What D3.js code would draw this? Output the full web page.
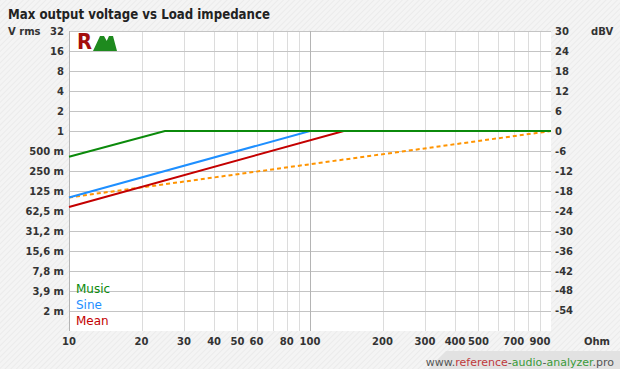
<!DOCTYPE html>
<html>
<head>
<meta charset="utf-8">
<script src="https://cdn.jsdelivr.net/npm/d3@7"></script>
<style>
  body { margin: 0; background: #fff; }
  svg { display: block; font-family: "DejaVu Sans", Verdana, sans-serif; }
</style>
</head>
<body>
<script>
// series: load impedance (Ohm) vs max output voltage (V rms)
var musicR = [10, 25, 1000],  musicV = [0.41, 1, 1];
var sineR  = [10, 100, 1000], sineV  = [0.1, 1, 1];
var meanR  = [10, 138, 1000], meanV  = [0.072, 1, 1];
var refR   = [10, 1000],      refV   = [0.1, 1];

var xTicks = [10, 20, 30, 40, 50, 60, 80, 100, 200, 300, 400, 500, 700, 900];
var xGrid  = [20, 30, 40, 50, 60, 70, 80, 90, 200, 300, 400, 500, 600, 700, 800, 900];
var yTicks = [32, 16, 8, 4, 2, 1, 0.5, 0.25, 0.125, 0.0625, 0.03125, 0.015625, 0.0078125, 0.00390625, 0.001953125];
var yLabels = ["32", "16", "8", "4", "2", "1", "500 m", "250 m", "125 m", "62,5 m", "31,2 m", "15,6 m", "7,8 m", "3,9 m", "2 m"];
var dbTicks = [30, 24, 18, 12, 6, 0, -6, -12, -18, -24, -30, -36, -42, -48, -54];

function draw() {
    var W = 620, H = 369;
    var mLeft = 69, mRight = 551, mTop = 31, mBottom = 331;

    var svg = d3.select("body").append("svg")
        .attr("width", W).attr("height", H);

    // hatched background
    var defs = svg.append("defs");
    var pat = defs.append("pattern")
        .attr("id", "hatch").attr("width", 4).attr("height", 4)
        .attr("patternUnits", "userSpaceOnUse")
        .attr("patternTransform", "rotate(45)");
    pat.append("rect").attr("width", 4).attr("height", 4).attr("fill", "#f4f4f4");
    pat.append("line").attr("x1", 0).attr("y1", 0).attr("x2", 0).attr("y2", 4)
        .attr("stroke", "#e8e8e8").attr("stroke-width", 1.5);

    svg.append("rect").attr("width", W).attr("height", H).attr("fill", "url(#hatch)");

    // url strip bottom right
    svg.append("path")
        .attr("d", "M446,351 L620,351 L620,369 L428,369 Z")
        .attr("fill", "#e2e2e2");

    var x = d3.scaleLog().domain([10, 1000]).range([mLeft, mRight]);
    var y = d3.scaleLog().base(2).domain([Math.pow(2, -10), 32]).range([mBottom, mTop]);
    var yDb = d3.scaleLinear()
        .domain([20 * Math.log10(Math.pow(2, -10)), 20 * Math.log10(32)])
        .range([mBottom, mTop]);

    svg.append("rect")
        .attr("x", mLeft).attr("y", mTop)
        .attr("width", mRight - mLeft).attr("height", mBottom - mTop)
        .attr("fill", "#fff");

    var grid = svg.append("g");
    grid.selectAll(".vg")
        .data(xGrid)
        .enter().append("line")
        .attr("y1", mTop).attr("y2", mBottom)
        .attr("x1", function(d) { return Math.round(x(d)) + 0.5; })
        .attr("x2", function(d) { return Math.round(x(d)) + 0.5; })
        .attr("stroke", "#dcdcdc");

    grid.selectAll(".hg")
        .data(yTicks)
        .enter().append("line")
        .attr("x1", mLeft).attr("x2", mRight)
        .attr("y1", function(d) { return Math.round(y(d)) + 0.5; })
        .attr("y2", function(d) { return Math.round(y(d)) + 0.5; })
        .attr("stroke", "#c4c4c4");

    // decade line and left edge
    grid.append("line")
        .attr("y1", mTop).attr("y2", mBottom)
        .attr("x1", Math.round(x(100)) + 0.5).attr("x2", Math.round(x(100)) + 0.5)
        .attr("stroke", "#b4b4b4");
    grid.append("line")
        .attr("y1", mTop).attr("y2", mBottom)
        .attr("x1", mLeft + 0.5).attr("x2", mLeft + 0.5)
        .attr("stroke", "#b4b4b4");

    // tick labels
    var lab = svg.append("g")
        .attr("font-size", 10).attr("font-weight", "bold").attr("fill", "#333");

    lab.selectAll(".yl")
        .data(yTicks)
        .enter().append("text")
        .attr("x", 64).attr("y", function(d) { return y(d) + 4; })
        .attr("text-anchor", "end")
        .text(function(d, i) { return yLabels[i]; });

    lab.selectAll(".dl")
        .data(dbTicks)
        .enter().append("text")
        .attr("x", 555).attr("y", function(d) { return yDb(d) + 4; })
        .text(function(d) { return d; });

    lab.selectAll(".xl")
        .data(xTicks)
        .enter().append("text")
        .attr("x", function(d) { return x(d); }).attr("y", 345)
        .attr("text-anchor", "middle")
        .text(function(d) { return d; });

    lab.append("text").attr("x", 8).attr("y", 35).text("V rms");
    lab.append("text").attr("x", 591).attr("y", 35).text("dBV");
    lab.append("text").attr("x", 584).attr("y", 345).text("Ohm");

    svg.append("text")
        .attr("x", 8).attr("y", 19)
        .attr("font-size", 14).attr("font-weight", "bold").attr("fill", "#222")
        .attr("textLength", 262).attr("lengthAdjust", "spacingAndGlyphs")
        .text("Max output voltage vs Load impedance");

    // logo
    var logo = svg.append("g");
    logo.append("text")
        .attr("x", 77).attr("y", 49)
        .attr("font-size", 21).attr("font-weight", "bold").attr("fill", "#a40d0d")
        .attr("textLength", 15).attr("lengthAdjust", "spacingAndGlyphs")
        .text("R");
    logo.append("path")
        .attr("d", "M93,51 L100,36 L104,36 L110,47 L106,51 Z M102,51 L109,36 L113,36 L117,51 L112,51 Z")
        .attr("fill", "#1e8a1e");

    // series lines
    var line = d3.line()
        .x(function(d) { return x(d[0]); })
        .y(function(d) { return y(d[1]); });

    function zip(a, b) { return a.map(function(v, i) { return [v, b[i]]; }); }

    var series = [
        { r: refR, v: refV, color: "#ff9400", dash: "4,3" },
        { r: meanR, v: meanV, color: "#c40000" },
        { r: sineR, v: sineV, color: "#1e8fff" },
        { r: musicR, v: musicV, color: "#0b8a0b" }
    ];

    svg.append("g").selectAll("path")
        .data(series)
        .enter().append("path")
        .attr("d", function(s) { return line(zip(s.r, s.v)); })
        .attr("fill", "none")
        .attr("stroke", function(s) { return s.color; })
        .attr("stroke-width", 2)
        .attr("stroke-dasharray", function(s) { return s.dash || null; });

    // legend
    var legend = [["Music", "#0b8a0b"], ["Sine", "#1e8fff"], ["Mean", "#c40000"]];
    svg.append("g").selectAll("text")
        .data(legend)
        .enter().append("text")
        .attr("x", 76).attr("y", function(d, i) { return 293 + i * 16; })
        .attr("font-size", 12).attr("fill", function(d) { return d[1]; })
        .text(function(d) { return d[0]; });

    // site url
    var url = svg.append("text")
        .attr("x", 614).attr("y", 366)
        .attr("text-anchor", "end")
        .attr("font-size", 11).attr("fill", "#555");
    url.append("tspan").text("www.");
    url.append("tspan").attr("fill", "#c0393b").text("reference");
    url.append("tspan").text("-");
    url.append("tspan").attr("fill", "#3a9a3a").text("audio");
    url.append("tspan").text("-");
    url.append("tspan").attr("fill", "#3a9a3a").text("analyzer");
    url.append("tspan").text(".pro");
}

window.onload = draw;
</script>
</body>
</html>
